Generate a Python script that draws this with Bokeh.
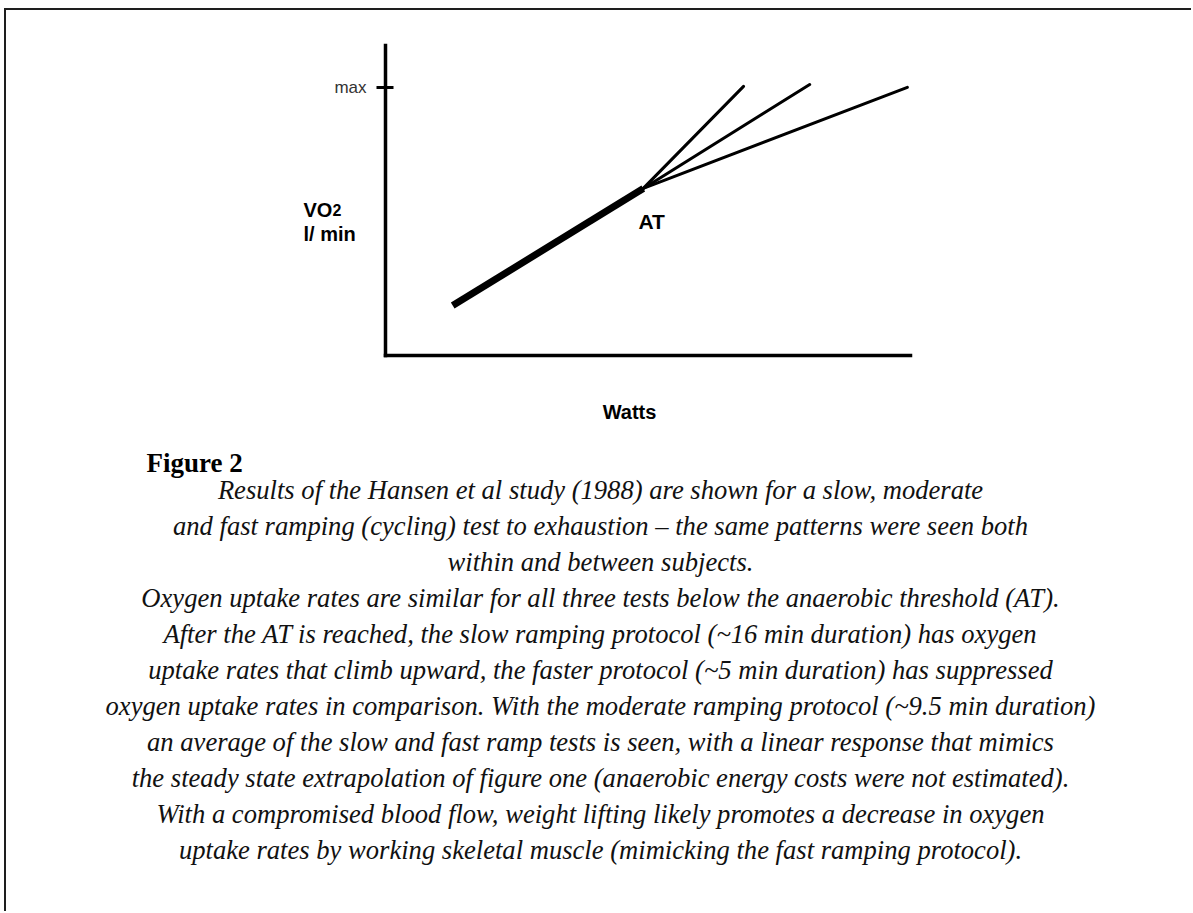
from bokeh.plotting import figure
from bokeh.models import Range1d, LinearAxis, FixedTicker, Label
from bokeh.embed import file_html
from bokeh.resources import INLINE

# ---- data (schematic units) ----
vo2_max = 86.5
at_watts = 49.1
at_vo2 = 53.9
start_watts = 12.8
start_vo2 = 16.1
protocols = ["slow", "moderate", "fast"]
end_watts = [68.2, 80.8, 99.4]
end_vo2 = [86.8, 87.4, 86.5]
y_tick_labels = {vo2_max: "max"}
axis_bounds = (0, 100)

caption_lines = [
    "Results of the Hansen et al study (1988) are shown for a slow, moderate",
    "and fast ramping (cycling) test to exhaustion \u2013 the same patterns were seen both",
    "within and between subjects.",
    "Oxygen uptake rates are similar for all three tests below the anaerobic threshold (AT).",
    "After the AT is reached, the slow ramping protocol (~16 min duration) has oxygen",
    "uptake rates that climb upward, the faster protocol (~5 min duration) has suppressed",
    "oxygen uptake rates in comparison. With the moderate ramping protocol (~9.5 min duration)",
    "an average of the slow and fast ramp tests is seen, with a linear response that mimics",
    "the steady state extrapolation of figure one (anaerobic energy costs were not estimated).",
    "With a compromised blood flow, weight lifting likely promotes a decrease in oxygen",
    "uptake rates by working skeletal muscle (mimicking the fast ramping protocol).",
]

# ---- layout (page pixels) ----
MX, MY, BW = 4, 8, 2          # css margins and border width
OX, OY = MX + BW, MY + BW     # canvas origin on page
W, H = 1187, 903
FL, FR, FT, FB = 385, 910, 45, 355   # chart axes box on page


def dx(px):
    return (px - FL) / (FR - FL) * (axis_bounds[1] - axis_bounds[0])


def dy(py):
    return (FB - py) / (FB - FT) * (axis_bounds[1] - axis_bounds[0])


p = figure(width=W, height=H, output_backend="svg", toolbar_location=None,
           x_range=Range1d(dx(OX), dx(OX + W)),
           y_range=Range1d(dy(OY + H), dy(OY)),
           x_axis_type=None, y_axis_type=None,
           min_border=0, min_border_left=0, min_border_right=0,
           min_border_top=0, min_border_bottom=0,
           background_fill_color="white", border_fill_color="white")
p.outline_line_color = None
p.styles = {"border-top": "2px solid #1e1e1e",
            "border-left": "2px solid #1e1e1e",
            "margin-left": f"{MX}px", "margin-top": f"{MY}px"}

yaxis = LinearAxis(ticker=FixedTicker(ticks=[vo2_max]),
                   major_label_overrides=y_tick_labels,
                   fixed_location=0, bounds=axis_bounds,
                   axis_line_width=3.5, axis_line_color="black",
                   axis_line_cap="square",
                   major_tick_line_width=3, major_tick_line_color="black",
                   major_tick_in=8, major_tick_out=9,
                   minor_tick_line_color=None,
                   major_label_text_font="Liberation Sans",
                   major_label_text_font_size="17px",
                   major_label_text_color="#333333",
                   major_label_standoff=10)
p.add_layout(yaxis, "left")

xaxis = LinearAxis(ticker=FixedTicker(ticks=[]),
                   fixed_location=0, bounds=axis_bounds,
                   axis_line_width=3.5, axis_line_color="black",
                   axis_line_cap="square",
                   major_tick_line_color=None, minor_tick_line_color=None,
                   major_label_text_font_size="0px")
p.add_layout(xaxis, "below")

# common part below AT (all three protocols overlap)
p.line([start_watts, at_watts], [start_vo2, at_vo2], line_width=7,
       line_color="black", line_cap="butt")
for ew, ev in zip(end_watts, end_vo2):
    p.line([at_watts, ew], [at_vo2, ev], line_width=3,
           line_color="black", line_cap="round")


def add_label(text, px, py, size, align="left", font="Liberation Sans",
              style="bold", color="black"):
    p.add_layout(Label(x=dx(px), y=dy(py), text=text, text_align=align,
                       text_baseline="alphabetic", text_font=font,
                       text_font_style=style, text_font_size=size,
                       text_color=color))


add_label("VO", 303, 209, "20px")
add_label("2", 332, 209, "16px")
add_label("l/ min", 303, 233, "20px")
add_label("AT", 638, 221, "21px")
add_label("Watts", 629, 411, "20px", align="center")
add_label("Figure 2", 146, 462, "27px", font="Liberation Serif")

for i, line in enumerate(caption_lines):
    add_label(line, 600, 489 + 36 * i, "26.6px", align="center",
              font="Liberation Serif", style="italic", color="#111111")

open("out.html", "w").write(file_html(p, INLINE))
